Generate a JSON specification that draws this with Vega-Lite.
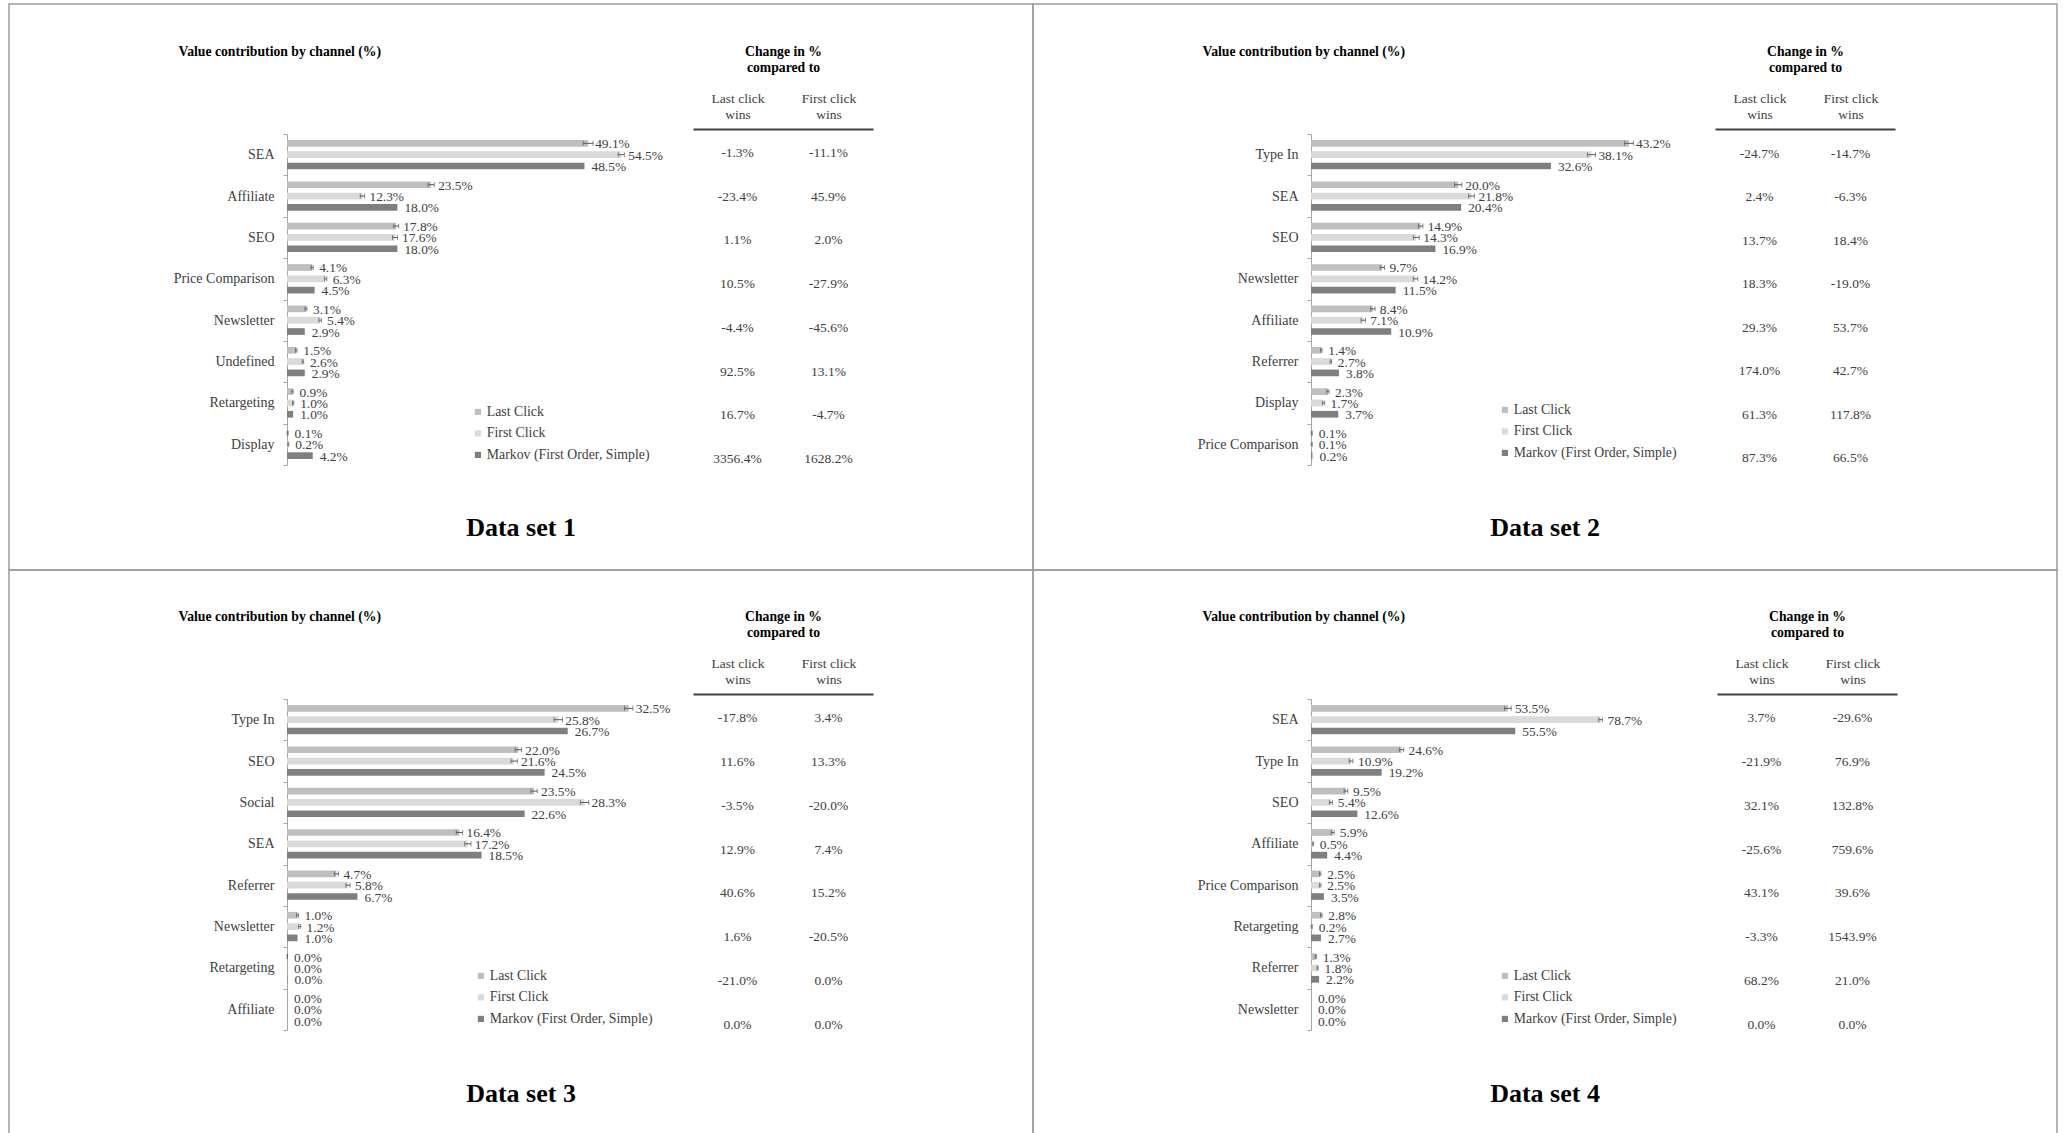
{
"$schema": "https://vega.github.io/schema/vega-lite/v6.json",
"background": "white",
"padding": {"left": 8, "top": -4, "right": 0, "bottom": 0},
"bounds": "flush",
"datasets": {
"bars": [
{"set":1,"ch":"SEA","m":"Last Click","v":0.491,"lo":0.483,"hi":0.499},
{"set":1,"ch":"SEA","m":"First Click","v":0.545,"lo":0.540,"hi":0.550},
{"set":1,"ch":"SEA","m":"Markov (First Order, Simple)","v":0.485},
{"set":1,"ch":"Affiliate","m":"Last Click","v":0.235,"lo":0.230,"hi":0.240},
{"set":1,"ch":"Affiliate","m":"First Click","v":0.123,"lo":0.1195,"hi":0.1265},
{"set":1,"ch":"Affiliate","m":"Markov (First Order, Simple)","v":0.180},
{"set":1,"ch":"SEO","m":"Last Click","v":0.178,"lo":0.174,"hi":0.182},
{"set":1,"ch":"SEO","m":"First Click","v":0.176,"lo":0.172,"hi":0.180},
{"set":1,"ch":"SEO","m":"Markov (First Order, Simple)","v":0.180},
{"set":1,"ch":"Price Comparison","m":"Last Click","v":0.041,"lo":0.0393,"hi":0.0427},
{"set":1,"ch":"Price Comparison","m":"First Click","v":0.063,"lo":0.061,"hi":0.065},
{"set":1,"ch":"Price Comparison","m":"Markov (First Order, Simple)","v":0.045},
{"set":1,"ch":"Newsletter","m":"Last Click","v":0.031,"lo":0.0295,"hi":0.0325},
{"set":1,"ch":"Newsletter","m":"First Click","v":0.054,"lo":0.052,"hi":0.056},
{"set":1,"ch":"Newsletter","m":"Markov (First Order, Simple)","v":0.029},
{"set":1,"ch":"Undefined","m":"Last Click","v":0.015,"lo":0.0138,"hi":0.0162},
{"set":1,"ch":"Undefined","m":"First Click","v":0.026,"lo":0.0248,"hi":0.0272},
{"set":1,"ch":"Undefined","m":"Markov (First Order, Simple)","v":0.029},
{"set":1,"ch":"Retargeting","m":"Last Click","v":0.009,"lo":0.008,"hi":0.010},
{"set":1,"ch":"Retargeting","m":"First Click","v":0.010,"lo":0.009,"hi":0.011},
{"set":1,"ch":"Retargeting","m":"Markov (First Order, Simple)","v":0.010},
{"set":1,"ch":"Display","m":"Last Click","v":0.001,"lo":0.0002,"hi":0.0018},
{"set":1,"ch":"Display","m":"First Click","v":0.002,"lo":0.0012,"hi":0.0028},
{"set":1,"ch":"Display","m":"Markov (First Order, Simple)","v":0.042},
{"set":2,"ch":"Type In","m":"Last Click","v":0.432,"lo":0.426,"hi":0.438},
{"set":2,"ch":"Type In","m":"First Click","v":0.381,"lo":0.3755,"hi":0.3865},
{"set":2,"ch":"Type In","m":"Markov (First Order, Simple)","v":0.326},
{"set":2,"ch":"SEA","m":"Last Click","v":0.200,"lo":0.195,"hi":0.205},
{"set":2,"ch":"SEA","m":"First Click","v":0.218,"lo":0.214,"hi":0.222},
{"set":2,"ch":"SEA","m":"Markov (First Order, Simple)","v":0.204},
{"set":2,"ch":"SEO","m":"Last Click","v":0.149,"lo":0.146,"hi":0.152},
{"set":2,"ch":"SEO","m":"First Click","v":0.143,"lo":0.139,"hi":0.147},
{"set":2,"ch":"SEO","m":"Markov (First Order, Simple)","v":0.169},
{"set":2,"ch":"Newsletter","m":"Last Click","v":0.097,"lo":0.094,"hi":0.100},
{"set":2,"ch":"Newsletter","m":"First Click","v":0.142,"lo":0.139,"hi":0.145},
{"set":2,"ch":"Newsletter","m":"Markov (First Order, Simple)","v":0.115},
{"set":2,"ch":"Affiliate","m":"Last Click","v":0.084,"lo":0.081,"hi":0.087},
{"set":2,"ch":"Affiliate","m":"First Click","v":0.071,"lo":0.068,"hi":0.074},
{"set":2,"ch":"Affiliate","m":"Markov (First Order, Simple)","v":0.109},
{"set":2,"ch":"Referrer","m":"Last Click","v":0.014,"lo":0.013,"hi":0.015},
{"set":2,"ch":"Referrer","m":"First Click","v":0.027,"lo":0.026,"hi":0.028},
{"set":2,"ch":"Referrer","m":"Markov (First Order, Simple)","v":0.038},
{"set":2,"ch":"Display","m":"Last Click","v":0.023,"lo":0.0215,"hi":0.0245},
{"set":2,"ch":"Display","m":"First Click","v":0.017,"lo":0.0155,"hi":0.0185},
{"set":2,"ch":"Display","m":"Markov (First Order, Simple)","v":0.037},
{"set":2,"ch":"Price Comparison","m":"Last Click","v":0.001,"lo":0.0003,"hi":0.0017},
{"set":2,"ch":"Price Comparison","m":"First Click","v":0.001,"lo":0.0003,"hi":0.0017},
{"set":2,"ch":"Price Comparison","m":"Markov (First Order, Simple)","v":0.002},
{"set":3,"ch":"Type In","m":"Last Click","v":0.325,"lo":0.321,"hi":0.329},
{"set":3,"ch":"Type In","m":"First Click","v":0.258,"lo":0.254,"hi":0.262},
{"set":3,"ch":"Type In","m":"Markov (First Order, Simple)","v":0.267},
{"set":3,"ch":"SEO","m":"Last Click","v":0.220,"lo":0.217,"hi":0.223},
{"set":3,"ch":"SEO","m":"First Click","v":0.216,"lo":0.213,"hi":0.219},
{"set":3,"ch":"SEO","m":"Markov (First Order, Simple)","v":0.245},
{"set":3,"ch":"Social","m":"Last Click","v":0.235,"lo":0.232,"hi":0.238},
{"set":3,"ch":"Social","m":"First Click","v":0.283,"lo":0.279,"hi":0.287},
{"set":3,"ch":"Social","m":"Markov (First Order, Simple)","v":0.226},
{"set":3,"ch":"SEA","m":"Last Click","v":0.164,"lo":0.161,"hi":0.167},
{"set":3,"ch":"SEA","m":"First Click","v":0.172,"lo":0.169,"hi":0.175},
{"set":3,"ch":"SEA","m":"Markov (First Order, Simple)","v":0.185},
{"set":3,"ch":"Referrer","m":"Last Click","v":0.047,"lo":0.045,"hi":0.049},
{"set":3,"ch":"Referrer","m":"First Click","v":0.058,"lo":0.056,"hi":0.060},
{"set":3,"ch":"Referrer","m":"Markov (First Order, Simple)","v":0.067},
{"set":3,"ch":"Newsletter","m":"Last Click","v":0.010,"lo":0.009,"hi":0.011},
{"set":3,"ch":"Newsletter","m":"First Click","v":0.012,"lo":0.011,"hi":0.013},
{"set":3,"ch":"Newsletter","m":"Markov (First Order, Simple)","v":0.010},
{"set":3,"ch":"Retargeting","m":"Last Click","v":0.0,"lo":0.0001,"hi":0.0005},
{"set":3,"ch":"Retargeting","m":"First Click","v":0.0},
{"set":3,"ch":"Retargeting","m":"Markov (First Order, Simple)","v":0.0004},
{"set":3,"ch":"Affiliate","m":"Last Click","v":0.0},
{"set":3,"ch":"Affiliate","m":"First Click","v":0.0},
{"set":3,"ch":"Affiliate","m":"Markov (First Order, Simple)","v":0.0},
{"set":4,"ch":"SEA","m":"Last Click","v":0.535,"lo":0.526,"hi":0.544},
{"set":4,"ch":"SEA","m":"First Click","v":0.787,"lo":0.782,"hi":0.792},
{"set":4,"ch":"SEA","m":"Markov (First Order, Simple)","v":0.555},
{"set":4,"ch":"Type In","m":"Last Click","v":0.246,"lo":0.240,"hi":0.252},
{"set":4,"ch":"Type In","m":"First Click","v":0.109,"lo":0.104,"hi":0.114},
{"set":4,"ch":"Type In","m":"Markov (First Order, Simple)","v":0.192},
{"set":4,"ch":"SEO","m":"Last Click","v":0.095,"lo":0.090,"hi":0.100},
{"set":4,"ch":"SEO","m":"First Click","v":0.054,"lo":0.050,"hi":0.058},
{"set":4,"ch":"SEO","m":"Markov (First Order, Simple)","v":0.126},
{"set":4,"ch":"Affiliate","m":"Last Click","v":0.059,"lo":0.055,"hi":0.063},
{"set":4,"ch":"Affiliate","m":"First Click","v":0.005,"lo":0.003,"hi":0.007},
{"set":4,"ch":"Affiliate","m":"Markov (First Order, Simple)","v":0.044},
{"set":4,"ch":"Price Comparison","m":"Last Click","v":0.025,"lo":0.023,"hi":0.027},
{"set":4,"ch":"Price Comparison","m":"First Click","v":0.025,"lo":0.023,"hi":0.027},
{"set":4,"ch":"Price Comparison","m":"Markov (First Order, Simple)","v":0.035},
{"set":4,"ch":"Retargeting","m":"Last Click","v":0.028,"lo":0.026,"hi":0.030},
{"set":4,"ch":"Retargeting","m":"First Click","v":0.002,"lo":0.0005,"hi":0.0035},
{"set":4,"ch":"Retargeting","m":"Markov (First Order, Simple)","v":0.027},
{"set":4,"ch":"Referrer","m":"Last Click","v":0.013,"lo":0.0115,"hi":0.0145},
{"set":4,"ch":"Referrer","m":"First Click","v":0.018,"lo":0.0165,"hi":0.0195},
{"set":4,"ch":"Referrer","m":"Markov (First Order, Simple)","v":0.022},
{"set":4,"ch":"Newsletter","m":"Last Click","v":0.0},
{"set":4,"ch":"Newsletter","m":"First Click","v":0.0},
{"set":4,"ch":"Newsletter","m":"Markov (First Order, Simple)","v":0.0}
],
"table": [
{"set":1,"ch":"SEA","Last click wins":"-1.3%","First click wins":"-11.1%"},
{"set":1,"ch":"Affiliate","Last click wins":"-23.4%","First click wins":"45.9%"},
{"set":1,"ch":"SEO","Last click wins":"1.1%","First click wins":"2.0%"},
{"set":1,"ch":"Price Comparison","Last click wins":"10.5%","First click wins":"-27.9%"},
{"set":1,"ch":"Newsletter","Last click wins":"-4.4%","First click wins":"-45.6%"},
{"set":1,"ch":"Undefined","Last click wins":"92.5%","First click wins":"13.1%"},
{"set":1,"ch":"Retargeting","Last click wins":"16.7%","First click wins":"-4.7%"},
{"set":1,"ch":"Display","Last click wins":"3356.4%","First click wins":"1628.2%"},
{"set":2,"ch":"Type In","Last click wins":"-24.7%","First click wins":"-14.7%"},
{"set":2,"ch":"SEA","Last click wins":"2.4%","First click wins":"-6.3%"},
{"set":2,"ch":"SEO","Last click wins":"13.7%","First click wins":"18.4%"},
{"set":2,"ch":"Newsletter","Last click wins":"18.3%","First click wins":"-19.0%"},
{"set":2,"ch":"Affiliate","Last click wins":"29.3%","First click wins":"53.7%"},
{"set":2,"ch":"Referrer","Last click wins":"174.0%","First click wins":"42.7%"},
{"set":2,"ch":"Display","Last click wins":"61.3%","First click wins":"117.8%"},
{"set":2,"ch":"Price Comparison","Last click wins":"87.3%","First click wins":"66.5%"},
{"set":3,"ch":"Type In","Last click wins":"-17.8%","First click wins":"3.4%"},
{"set":3,"ch":"SEO","Last click wins":"11.6%","First click wins":"13.3%"},
{"set":3,"ch":"Social","Last click wins":"-3.5%","First click wins":"-20.0%"},
{"set":3,"ch":"SEA","Last click wins":"12.9%","First click wins":"7.4%"},
{"set":3,"ch":"Referrer","Last click wins":"40.6%","First click wins":"15.2%"},
{"set":3,"ch":"Newsletter","Last click wins":"1.6%","First click wins":"-20.5%"},
{"set":3,"ch":"Retargeting","Last click wins":"-21.0%","First click wins":"0.0%"},
{"set":3,"ch":"Affiliate","Last click wins":"0.0%","First click wins":"0.0%"},
{"set":4,"ch":"SEA","Last click wins":"3.7%","First click wins":"-29.6%"},
{"set":4,"ch":"Type In","Last click wins":"-21.9%","First click wins":"76.9%"},
{"set":4,"ch":"SEO","Last click wins":"32.1%","First click wins":"132.8%"},
{"set":4,"ch":"Affiliate","Last click wins":"-25.6%","First click wins":"759.6%"},
{"set":4,"ch":"Price Comparison","Last click wins":"43.1%","First click wins":"39.6%"},
{"set":4,"ch":"Retargeting","Last click wins":"-3.3%","First click wins":"1543.9%"},
{"set":4,"ch":"Referrer","Last click wins":"68.2%","First click wins":"21.0%"},
{"set":4,"ch":"Newsletter","Last click wins":"0.0%","First click wins":"0.0%"}
]
},
"columns": 2,
"spacing": 0,
"resolve": {"scale": {"color": "independent"}, "legend": {"color": "independent"}},
"concat": [
{
"width": 1024, "height": 566,
"title": {"text": "Data set 1"},
"resolve": {"scale": {"x": "independent", "y": "independent"}},
"layer": [
{
"data": {"name": "bars"},
"transform": [{"filter": "datum.set == 1"}],
"encoding": {
"y": {"field": "ch", "type": "nominal", "sort": ["SEA","Affiliate","SEO","Price Comparison","Newsletter","Undefined","Retargeting","Display"], "scale": {"range": [130, 461], "paddingInner": 0, "paddingOuter": 0},
"axis": {"title": "Value contribution by channel (%)", "titleAngle": 0, "titleAlign": "left", "titleBaseline": "alphabetic", "titleX": -109, "titleY": 51, "titleFontSize": 13.7, "titleFontWeight": "bold", "titleColor": "#000000", "offset": -278, "domainColor": "#a6a6a6", "tickColor": "#a6a6a6", "tickSize": 4, "tickBand": "extent", "labelFontSize": 14, "labelColor": "#404040", "labelPadding": 9, "grid": false}},
"yOffset": {"field": "m", "type": "nominal", "sort": ["Last Click","First Click","Markov (First Order, Simple)"], "scale": {"paddingInner": 0.41, "paddingOuter": 0.53}}
},
"layer": [
{"mark": {"type": "bar"}, "encoding": {"x": {"field": "v", "type": "quantitative", "scale": {"domain": [0, 0.6], "range": [278, 646]}, "axis": null},
"color": {"field": "m", "type": "nominal", "scale": {"domain": ["Last Click","First Click","Markov (First Order, Simple)"], "range": ["#bfbfbf","#dadada","#7f7f7f"]}, "legend": {"title": null, "orient": "none", "legendX": 462, "legendY": 401}}}},
{"mark": {"type": "rule", "color": "#595959", "strokeWidth": 1}, "encoding": {"x": {"field": "lo", "type": "quantitative", "scale": {"domain": [0, 0.6], "range": [278, 646]}, "axis": null}, "x2": {"field": "hi"}}},
{"mark": {"type": "tick", "orient": "vertical", "size": 5, "thickness": 1, "color": "#595959"}, "encoding": {"x": {"field": "lo", "type": "quantitative", "scale": {"domain": [0, 0.6], "range": [278, 646]}, "axis": null}}},
{"mark": {"type": "tick", "orient": "vertical", "size": 5, "thickness": 1, "color": "#595959"}, "encoding": {"x": {"field": "hi", "type": "quantitative", "scale": {"domain": [0, 0.6], "range": [278, 646]}, "axis": null}}},
{"mark": {"type": "text", "align": "left", "baseline": "middle", "dx": 7, "dy": 1, "fontSize": 13.4, "color": "#404040"}, "encoding": {"x": {"field": "v", "type": "quantitative", "scale": {"domain": [0, 0.6], "range": [278, 646]}, "axis": null}, "text": {"field": "v", "type": "quantitative", "format": ".1%"}}}
]
},
{
"data": {"name": "table"},
"transform": [{"filter": "datum.set == 1"}, {"fold": ["Last click wins", "First click wins"], "as": ["vs", "t"]}],
"mark": {"type": "text", "fontSize": 13.5, "color": "#404040", "align": "center", "baseline": "middle"},
"encoding": {
"x": {"field": "vs", "type": "nominal", "sort": ["Last click wins", "First click wins"], "scale": {"type": "point", "range": [684, 864], "padding": 0.49},
"axis": {"orient": "top", "offset": -125, "title": ["Change in %", "compared to"], "titleFontSize": 13.7, "titleFontWeight": "bold", "titleColor": "#000000", "titleY": -74, "titleBaseline": "alphabetic", "titleLineHeight": 16.6, "domainColor": "#404040", "domainWidth": 2, "ticks": false, "labelExpr": "[replace(datum.label, ' wins', ''), 'wins']", "labelFontSize": 13.5, "labelColor": "#404040", "labelLineHeight": 16.3, "labelBaseline": "top", "labelPadding": 38, "labelAngle": 0, "grid": false}},
"y": {"field": "ch", "type": "nominal", "sort": ["SEA","Affiliate","SEO","Price Comparison","Newsletter","Undefined","Retargeting","Display"], "scale": {"type": "point", "range": [149, 455], "padding": 0}, "axis": null},
"text": {"field": "t", "type": "nominal"}
}
}
]
},
{
"width": 1024, "height": 566,
"title": {"text": "Data set 2"},
"resolve": {"scale": {"x": "independent", "y": "independent"}},
"layer": [
{
"data": {"name": "bars"},
"transform": [{"filter": "datum.set == 2"}],
"encoding": {
"y": {"field": "ch", "type": "nominal", "sort": ["Type In","SEA","SEO","Newsletter","Affiliate","Referrer","Display","Price Comparison"], "scale": {"range": [130, 461], "paddingInner": 0, "paddingOuter": 0},
"axis": {"title": "Value contribution by channel (%)", "titleAngle": 0, "titleAlign": "left", "titleBaseline": "alphabetic", "titleX": -109, "titleY": 51, "titleFontSize": 13.7, "titleFontWeight": "bold", "titleColor": "#000000", "offset": -278, "domainColor": "#a6a6a6", "tickColor": "#a6a6a6", "tickSize": 4, "tickBand": "extent", "labelFontSize": 14, "labelColor": "#404040", "labelPadding": 9, "grid": false}},
"yOffset": {"field": "m", "type": "nominal", "sort": ["Last Click","First Click","Markov (First Order, Simple)"], "scale": {"paddingInner": 0.41, "paddingOuter": 0.53}}
},
"layer": [
{"mark": {"type": "bar"}, "encoding": {"x": {"field": "v", "type": "quantitative", "scale": {"domain": [0, 0.5], "range": [278, 646]}, "axis": null},
"color": {"field": "m", "type": "nominal", "scale": {"domain": ["Last Click","First Click","Markov (First Order, Simple)"], "range": ["#bfbfbf","#dadada","#7f7f7f"]}, "legend": {"title": null, "orient": "none", "legendX": 465, "legendY": 399}}}},
{"mark": {"type": "rule", "color": "#595959", "strokeWidth": 1}, "encoding": {"x": {"field": "lo", "type": "quantitative", "scale": {"domain": [0, 0.5], "range": [278, 646]}, "axis": null}, "x2": {"field": "hi"}}},
{"mark": {"type": "tick", "orient": "vertical", "size": 5, "thickness": 1, "color": "#595959"}, "encoding": {"x": {"field": "lo", "type": "quantitative", "scale": {"domain": [0, 0.5], "range": [278, 646]}, "axis": null}}},
{"mark": {"type": "tick", "orient": "vertical", "size": 5, "thickness": 1, "color": "#595959"}, "encoding": {"x": {"field": "hi", "type": "quantitative", "scale": {"domain": [0, 0.5], "range": [278, 646]}, "axis": null}}},
{"mark": {"type": "text", "align": "left", "baseline": "middle", "dx": 7, "dy": 1, "fontSize": 13.4, "color": "#404040"}, "encoding": {"x": {"field": "v", "type": "quantitative", "scale": {"domain": [0, 0.5], "range": [278, 646]}, "axis": null}, "text": {"field": "v", "type": "quantitative", "format": ".1%"}}}
]
},
{
"data": {"name": "table"},
"transform": [{"filter": "datum.set == 2"}, {"fold": ["Last click wins", "First click wins"], "as": ["vs", "t"]}],
"mark": {"type": "text", "fontSize": 13.5, "color": "#404040", "align": "center", "baseline": "middle"},
"encoding": {
"x": {"field": "vs", "type": "nominal", "sort": ["Last click wins", "First click wins"], "scale": {"type": "point", "range": [682, 862], "padding": 0.49},
"axis": {"orient": "top", "offset": -125, "title": ["Change in %", "compared to"], "titleFontSize": 13.7, "titleFontWeight": "bold", "titleColor": "#000000", "titleY": -74, "titleBaseline": "alphabetic", "titleLineHeight": 16.6, "domainColor": "#404040", "domainWidth": 2, "ticks": false, "labelExpr": "[replace(datum.label, ' wins', ''), 'wins']", "labelFontSize": 13.5, "labelColor": "#404040", "labelLineHeight": 16.3, "labelBaseline": "top", "labelPadding": 38, "labelAngle": 0, "grid": false}},
"y": {"field": "ch", "type": "nominal", "sort": ["Type In","SEA","SEO","Newsletter","Affiliate","Referrer","Display","Price Comparison"], "scale": {"type": "point", "range": [150, 454], "padding": 0}, "axis": null},
"text": {"field": "t", "type": "nominal"}
}
}
]
},
{
"width": 1024, "height": 566,
"title": {"text": "Data set 3"},
"resolve": {"scale": {"x": "independent", "y": "independent"}},
"layer": [
{
"data": {"name": "bars"},
"transform": [{"filter": "datum.set == 3"}],
"encoding": {
"y": {"field": "ch", "type": "nominal", "sort": ["Type In","SEO","Social","SEA","Referrer","Newsletter","Retargeting","Affiliate"], "scale": {"range": [129, 460], "paddingInner": 0, "paddingOuter": 0},
"axis": {"title": "Value contribution by channel (%)", "titleAngle": 0, "titleAlign": "left", "titleBaseline": "alphabetic", "titleX": -109, "titleY": 50, "titleFontSize": 13.7, "titleFontWeight": "bold", "titleColor": "#000000", "offset": -278, "domainColor": "#a6a6a6", "tickColor": "#a6a6a6", "tickSize": 4, "tickBand": "extent", "labelFontSize": 14, "labelColor": "#404040", "labelPadding": 9, "grid": false}},
"yOffset": {"field": "m", "type": "nominal", "sort": ["Last Click","First Click","Markov (First Order, Simple)"], "scale": {"paddingInner": 0.41, "paddingOuter": 0.53}}
},
"layer": [
{"mark": {"type": "bar"}, "encoding": {"x": {"field": "v", "type": "quantitative", "scale": {"domain": [0, 0.35], "range": [278, 646]}, "axis": null},
"color": {"field": "m", "type": "nominal", "scale": {"domain": ["Last Click","First Click","Markov (First Order, Simple)"], "range": ["#bfbfbf","#dadada","#7f7f7f"]}, "legend": {"title": null, "orient": "none", "legendX": 465, "legendY": 399}}}},
{"mark": {"type": "rule", "color": "#595959", "strokeWidth": 1}, "encoding": {"x": {"field": "lo", "type": "quantitative", "scale": {"domain": [0, 0.35], "range": [278, 646]}, "axis": null}, "x2": {"field": "hi"}}},
{"mark": {"type": "tick", "orient": "vertical", "size": 5, "thickness": 1, "color": "#595959"}, "encoding": {"x": {"field": "lo", "type": "quantitative", "scale": {"domain": [0, 0.35], "range": [278, 646]}, "axis": null}}},
{"mark": {"type": "tick", "orient": "vertical", "size": 5, "thickness": 1, "color": "#595959"}, "encoding": {"x": {"field": "hi", "type": "quantitative", "scale": {"domain": [0, 0.35], "range": [278, 646]}, "axis": null}}},
{"mark": {"type": "text", "align": "left", "baseline": "middle", "dx": 7, "dy": 1, "fontSize": 13.4, "color": "#404040"}, "encoding": {"x": {"field": "v", "type": "quantitative", "scale": {"domain": [0, 0.35], "range": [278, 646]}, "axis": null}, "text": {"field": "v", "type": "quantitative", "format": ".1%"}}}
]
},
{
"data": {"name": "table"},
"transform": [{"filter": "datum.set == 3"}, {"fold": ["Last click wins", "First click wins"], "as": ["vs", "t"]}],
"mark": {"type": "text", "fontSize": 13.5, "color": "#404040", "align": "center", "baseline": "middle"},
"encoding": {
"x": {"field": "vs", "type": "nominal", "sort": ["Last click wins", "First click wins"], "scale": {"type": "point", "range": [684, 864], "padding": 0.49},
"axis": {"orient": "top", "offset": -124, "title": ["Change in %", "compared to"], "titleFontSize": 13.7, "titleFontWeight": "bold", "titleColor": "#000000", "titleY": -74, "titleBaseline": "alphabetic", "titleLineHeight": 16.6, "domainColor": "#404040", "domainWidth": 2, "ticks": false, "labelExpr": "[replace(datum.label, ' wins', ''), 'wins']", "labelFontSize": 13.5, "labelColor": "#404040", "labelLineHeight": 16.3, "labelBaseline": "top", "labelPadding": 38, "labelAngle": 0, "grid": false}},
"y": {"field": "ch", "type": "nominal", "sort": ["Type In","SEO","Social","SEA","Referrer","Newsletter","Retargeting","Affiliate"], "scale": {"type": "point", "range": [148, 455], "padding": 0}, "axis": null},
"text": {"field": "t", "type": "nominal"}
}
}
]
},
{
"width": 1024, "height": 566,
"title": {"text": "Data set 4"},
"resolve": {"scale": {"x": "independent", "y": "independent"}},
"layer": [
{
"data": {"name": "bars"},
"transform": [{"filter": "datum.set == 4"}],
"encoding": {
"y": {"field": "ch", "type": "nominal", "sort": ["SEA","Type In","SEO","Affiliate","Price Comparison","Retargeting","Referrer","Newsletter"], "scale": {"range": [129, 460], "paddingInner": 0, "paddingOuter": 0},
"axis": {"title": "Value contribution by channel (%)", "titleAngle": 0, "titleAlign": "left", "titleBaseline": "alphabetic", "titleX": -109, "titleY": 50, "titleFontSize": 13.7, "titleFontWeight": "bold", "titleColor": "#000000", "offset": -278, "domainColor": "#a6a6a6", "tickColor": "#a6a6a6", "tickSize": 4, "tickBand": "extent", "labelFontSize": 14, "labelColor": "#404040", "labelPadding": 9, "grid": false}},
"yOffset": {"field": "m", "type": "nominal", "sort": ["Last Click","First Click","Markov (First Order, Simple)"], "scale": {"paddingInner": 0.41, "paddingOuter": 0.53}}
},
"layer": [
{"mark": {"type": "bar"}, "encoding": {"x": {"field": "v", "type": "quantitative", "scale": {"domain": [0, 1.0], "range": [278, 646]}, "axis": null},
"color": {"field": "m", "type": "nominal", "scale": {"domain": ["Last Click","First Click","Markov (First Order, Simple)"], "range": ["#bfbfbf","#dadada","#7f7f7f"]}, "legend": {"title": null, "orient": "none", "legendX": 465, "legendY": 399}}}},
{"mark": {"type": "rule", "color": "#595959", "strokeWidth": 1}, "encoding": {"x": {"field": "lo", "type": "quantitative", "scale": {"domain": [0, 1.0], "range": [278, 646]}, "axis": null}, "x2": {"field": "hi"}}},
{"mark": {"type": "tick", "orient": "vertical", "size": 5, "thickness": 1, "color": "#595959"}, "encoding": {"x": {"field": "lo", "type": "quantitative", "scale": {"domain": [0, 1.0], "range": [278, 646]}, "axis": null}}},
{"mark": {"type": "tick", "orient": "vertical", "size": 5, "thickness": 1, "color": "#595959"}, "encoding": {"x": {"field": "hi", "type": "quantitative", "scale": {"domain": [0, 1.0], "range": [278, 646]}, "axis": null}}},
{"mark": {"type": "text", "align": "left", "baseline": "middle", "dx": 7, "dy": 1, "fontSize": 13.4, "color": "#404040"}, "encoding": {"x": {"field": "v", "type": "quantitative", "scale": {"domain": [0, 1.0], "range": [278, 646]}, "axis": null}, "text": {"field": "v", "type": "quantitative", "format": ".1%"}}}
]
},
{
"data": {"name": "table"},
"transform": [{"filter": "datum.set == 4"}, {"fold": ["Last click wins", "First click wins"], "as": ["vs", "t"]}],
"mark": {"type": "text", "fontSize": 13.5, "color": "#404040", "align": "center", "baseline": "middle"},
"encoding": {
"x": {"field": "vs", "type": "nominal", "sort": ["Last click wins", "First click wins"], "scale": {"type": "point", "range": [684, 864], "padding": 0.49},
"axis": {"orient": "top", "offset": -124, "title": ["Change in %", "compared to"], "titleFontSize": 13.7, "titleFontWeight": "bold", "titleColor": "#000000", "titleY": -74, "titleBaseline": "alphabetic", "titleLineHeight": 16.6, "domainColor": "#404040", "domainWidth": 2, "ticks": false, "labelExpr": "[replace(datum.label, ' wins', ''), 'wins']", "labelFontSize": 13.5, "labelColor": "#404040", "labelLineHeight": 16.3, "labelBaseline": "top", "labelPadding": 38, "labelAngle": 0, "grid": false}},
"y": {"field": "ch", "type": "nominal", "sort": ["SEA","Type In","SEO","Affiliate","Price Comparison","Retargeting","Referrer","Newsletter"], "scale": {"type": "point", "range": [148, 455], "padding": 0}, "axis": null},
"text": {"field": "t", "type": "nominal"}
}
}
]
}
],
"config": {
"font": "Liberation Serif",
"view": {"stroke": "#9c9c9c", "strokeWidth": 1.5},
"axis": {"labelFont": "Liberation Serif", "titleFont": "Liberation Serif"},
"legend": {"labelFont": "Liberation Serif", "labelFontSize": 13.8, "labelColor": "#404040", "labelLimit": 400, "symbolType": "square", "symbolSize": 38, "symbolStrokeWidth": 0, "rowPadding": 6.5, "labelOffset": 2},
"text": {"font": "Liberation Serif"},
"title": {"font": "Liberation Serif", "fontSize": 26, "fontWeight": "bold", "color": "#000000", "orient": "bottom", "frame": "group", "offset": -55, "anchor": "middle"}
}
}
